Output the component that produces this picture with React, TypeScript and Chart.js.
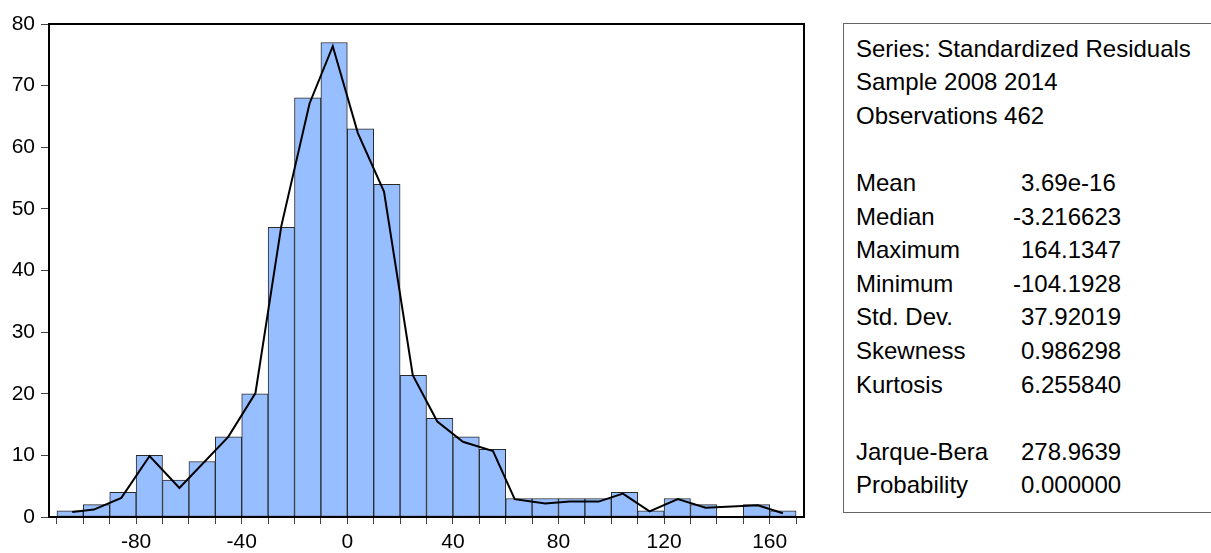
import React, { useEffect, useRef } from "react";
import { Chart, registerables } from "chart.js";

Chart.register(...registerables);

// ---- Data ----
const binCenters = [-105, -95, -85, -75, -65, -55, -45, -35, -25, -15, -5, 5, 15, 25, 35, 45, 55, 65, 75, 85, 95, 105, 115, 125, 135, 145, 155, 165];
const binCounts = [1, 2, 4, 10, 6, 9, 13, 20, 47, 68, 77, 63, 54, 23, 16, 13, 11, 3, 3, 3, 3, 4, 1, 3, 2, 0, 2, 1];

const curveX = [-104.2, -96.0, -85.6, -74.9, -63.6, -45.1, -34.8, -25.0, -14.3, -5.5, 4.0, 13.9, 24.8, 34.1, 43.8, 55.2, 63.4, 75.0, 84.2, 95.2, 104.4, 114.5, 125.2, 135.7, 155.5, 165.0];
const curveY = [0.8, 1.2, 3.1, 9.9, 4.7, 13.0, 20.1, 47.2, 67.1, 76.4, 62.3, 52.8, 23.0, 15.5, 12.2, 10.7, 2.9, 2.2, 2.5, 2.5, 3.8, 0.9, 2.9, 1.5, 1.9, 0.6];

const xTickValues = [-110, -100, -90, -80, -70, -60, -50, -40, -30, -20, -10, 0, 10, 20, 30, 40, 50, 60, 70, 80, 90, 100, 110, 120, 130, 140, 150, 160, 170];
const xLabelValues = [-80, -40, 0, 40, 80, 120, 160];

const headerLines = ["Series: Standardized Residuals", "Sample 2008 2014", "Observations 462"];
const statNames = ["Mean", "Median", "Maximum", "Minimum", "Std. Dev.", "Skewness", "Kurtosis"];
const statValues = ["3.69e-16", "-3.216623", "164.1347", "-104.1928", "37.92019", "0.986298", "6.255840"];
const testNames = ["Jarque-Bera", "Probability"];
const testValues = ["278.9639", "0.000000"];

const FONT = "'Liberation Sans', Arial, Helvetica, sans-serif";

const framePlugin = {
  id: "frame",
  afterDatasetsDraw(chart: any) {
    const { ctx, chartArea: a } = chart;
    ctx.save();
    ctx.strokeStyle = "#000";
    ctx.lineWidth = 2;
    ctx.strokeRect(a.left, a.top, a.right - a.left, a.bottom - a.top);
    ctx.restore();
  },
};

function HistChart() {
  const ref = useRef<HTMLCanvasElement | null>(null);
  useEffect(() => {
    if (!ref.current) return;
    const chart = new Chart(ref.current, {
      type: "bar",
      data: {
        datasets: [
          {
            type: "line",
            data: curveX.map((x, i) => ({ x, y: curveY[i] })),
            borderColor: "#000",
            borderWidth: 2,
            pointRadius: 0,
            tension: 0,
            fill: false,
            order: 1,
          } as any,
          {
            type: "bar",
            data: binCenters.map((x, i) => ({ x, y: binCounts[i] === 0 ? null : binCounts[i] })),
            backgroundColor: "#97BEFF",
            borderColor: "#2a2a2a",
            borderWidth: 1,
            borderSkipped: false,
            barPercentage: 1,
            categoryPercentage: 1,
            order: 2,
          } as any,
        ],
      },
      options: {
        animation: false,
        responsive: false,
        devicePixelRatio: 1,
        layout: { padding: { left: 0, top: 24, right: 16, bottom: 0 } },
        plugins: { legend: { display: false }, tooltip: { enabled: false } },
        scales: {
          x: {
            type: "linear",
            min: -113,
            max: 173,
            offset: false,
            border: { display: false },
            grid: {
              offset: false,
              drawOnChartArea: false,
              drawTicks: true,
              tickLength: 7,
              tickColor: "#444",
              tickWidth: 1,
            },
            afterBuildTicks: (scale: any) => {
              scale.ticks = xTickValues.map((v) => ({ value: v }));
            },
            afterFit: (scale: any) => {
              scale.height = 36;
            },
            ticks: {
              autoSkip: false,
              maxRotation: 0,
              minRotation: 0,
              padding: 6,
              color: "#000",
              font: { family: FONT, size: 21 },
              callback: (v: any) => (xLabelValues.includes(Number(v)) ? String(v) : ""),
            },
          },
          y: {
            type: "linear",
            min: 0,
            max: 80,
            border: { display: false },
            grid: {
              drawOnChartArea: false,
              drawTicks: true,
              tickLength: 8,
              tickColor: "#444",
              tickWidth: 1,
            },
            afterFit: (scale: any) => {
              scale.width = 49;
            },
            ticks: {
              stepSize: 10,
              padding: 6,
              color: "#000",
              font: { family: FONT, size: 21 },
            },
          },
        },
      },
      plugins: [framePlugin],
    });
    return () => chart.destroy();
  }, []);
  return <canvas ref={ref} width={820} height={553} style={{ display: "block", width: 820, height: 553 }} />;
}

const LINE_H = 33.6;
const FIRST_CENTER = 48;
const LABEL_X = 856;
const VALUE_X = 1021;
const MINUS_W = 8;

function rowTop(k: number) {
  return FIRST_CENTER + LINE_H * k - 16.5;
}

function StatsPanel() {
  const textStyle: React.CSSProperties = {
    position: "absolute",
    fontFamily: FONT,
    fontSize: 24,
    lineHeight: LINE_H + "px",
    color: "#000",
    whiteSpace: "nowrap",
    margin: 0,
  };
  const rows: { k: number; label: string; value?: string }[] = [];
  headerLines.forEach((t, i) => rows.push({ k: i, label: t }));
  statNames.forEach((t, i) => rows.push({ k: 4 + i, label: t, value: statValues[i] }));
  testNames.forEach((t, i) => rows.push({ k: 12 + i, label: t, value: testValues[i] }));
  return (
    <>
      <div
        style={{
          position: "absolute",
          left: 843,
          top: 23,
          width: 420,
          height: 490,
          border: "1px solid #666",
          boxSizing: "border-box",
        }}
      />
      {rows.map((r) => (
        <React.Fragment key={r.k}>
          <div style={{ ...textStyle, left: LABEL_X, top: rowTop(r.k) }}>{r.label}</div>
          {r.value !== undefined && (
            <div
              style={{
                ...textStyle,
                left: r.value.startsWith("-") ? VALUE_X - MINUS_W : VALUE_X,
                top: rowTop(r.k),
              }}
            >
              {r.value}
            </div>
          )}
        </React.Fragment>
      ))}
    </>
  );
}

export default function App() {
  return (
    <div
      style={{
        position: "fixed",
        left: 0,
        top: 0,
        width: 1211,
        height: 553,
        background: "#fff",
        overflow: "hidden",
      }}
    >
      <div style={{ position: "absolute", left: 0, top: 0, width: 820, height: 553 }}>
        <HistChart />
      </div>
      <StatsPanel />
    </div>
  );
}
